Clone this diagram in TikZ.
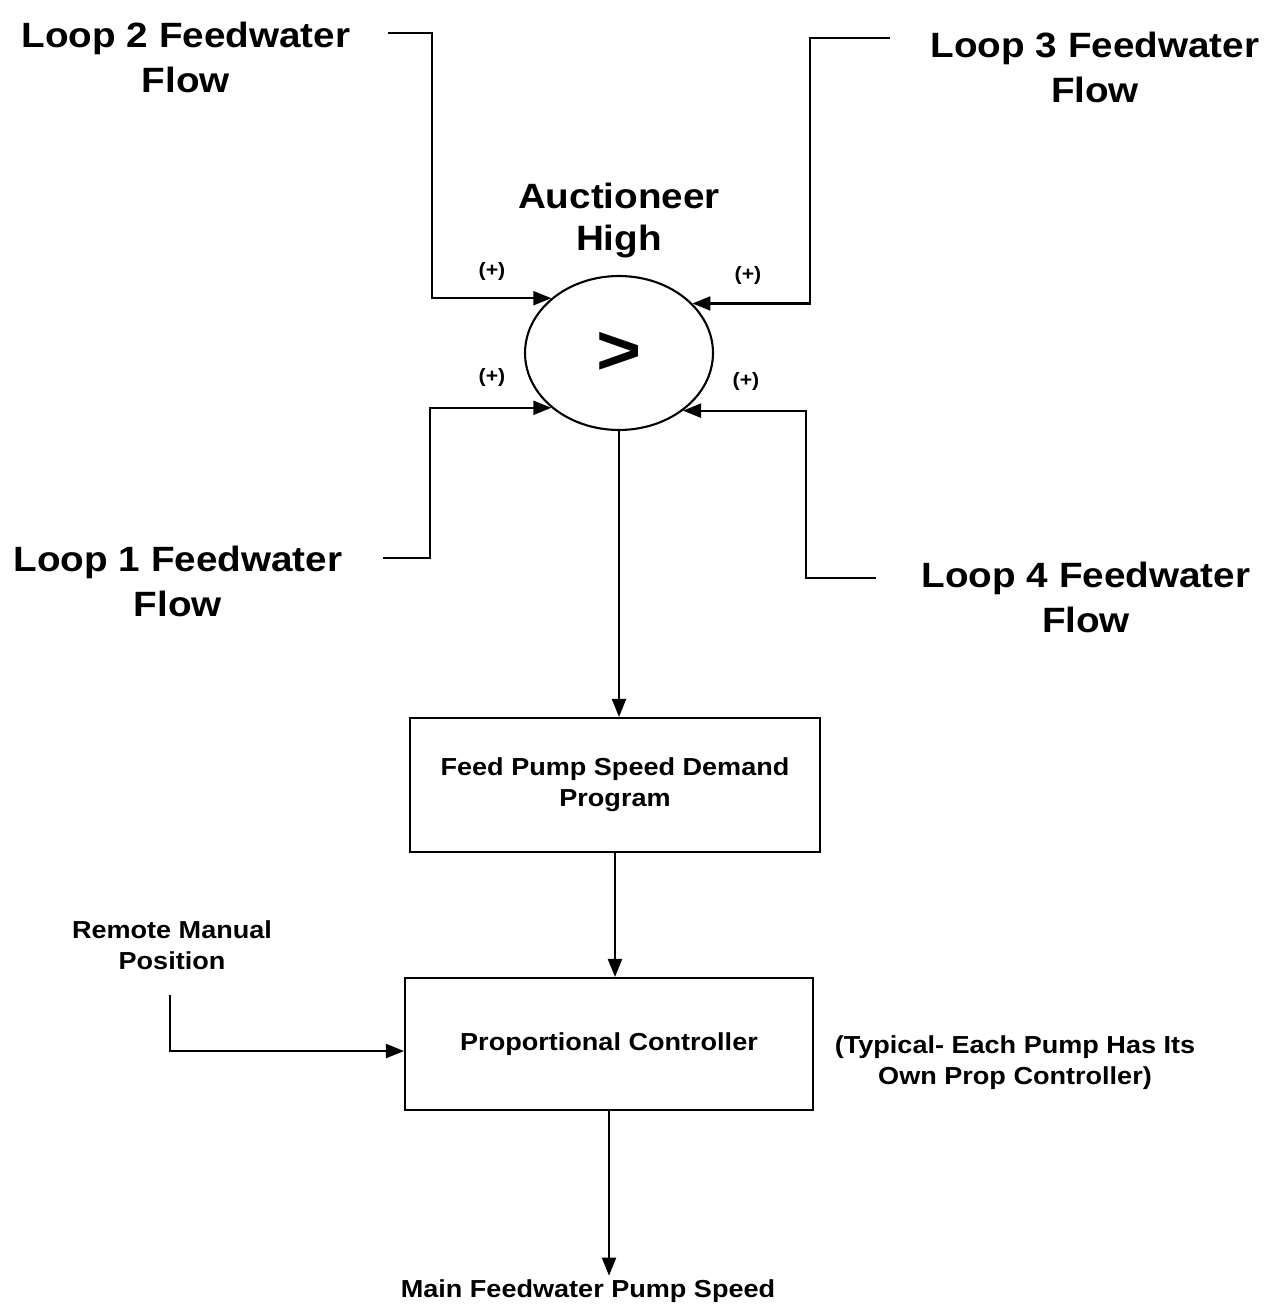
\documentclass[tikz,border=0pt]{standalone}
\usepackage{fontspec}
\setmainfont{Liberation Sans}[FakeStretch=1.1]
\usetikzlibrary{arrows.meta,positioning,shapes.geometric}
\tikzset{
  biglabel/.style={align=center,inner sep=0pt,
    font=\fontsize{20}{25.6}\selectfont\bfseries},
  smalllabel/.style={align=center,inner sep=0pt,
    font=\fontsize{14}{17.6}\selectfont\bfseries},
  signlabel/.style={inner sep=0pt,font=\fontsize{11}{11}\selectfont\bfseries},
  block/.style={draw,rectangle,line width=1.2pt,align=center,
    font=\fontsize{14}{17.6}\selectfont\bfseries},
  auctioneer/.style={draw,ellipse,line width=1.2pt,inner sep=0pt,
    minimum width=3.76cm,minimum height=3.08cm,font=\fontsize{40}{40}\selectfont\bfseries},
  signal/.style={-{Triangle[length=3.6mm,width=2.8mm]},line width=1.2pt}
}
\begin{document}
\begin{tikzpicture}[x=0.02cm,y=-0.02cm]
  \useasboundingbox (0,0) rectangle (1274,1310);
  % auctioneer high
  \node[auctioneer] (ah) at (619,353) {>};
  \node[biglabel,above=0.34cm of ah] (auc) {Auctioneer\\[-2pt]High};
  % loop inputs
  \node[biglabel] (loop2) at (186,57) {Loop 2 Feedwater\\Flow};
  \node[biglabel] (loop3) at (1095,67) {Loop 3 Feedwater\\Flow};
  \node[biglabel] (loop1) at (178,581) {Loop 1 Feedwater\\Flow};
  \node[biglabel] (loop4) at (1086,597) {Loop 4 Feedwater\\Flow};
  \coordinate (l2) at (388,33);
  \coordinate (l3) at (890,38);
  \coordinate (l1) at (383,558);
  \coordinate (l4) at (876,578);
  \draw[signal] (l2) -- ++(44,0) |- (ah.141);
  \draw[signal] (l3) -- ++(-80,0) |- (ah.34);
  \draw[signal] (l1) -- ++(47,0) |- (ah.219);
  \draw[signal] (l4) -- ++(-70,0) |- (ah.318);
  \node[signlabel] (p2) at (492,272) {(+)};
  \node[signlabel] (p3) at (748,276) {(+)};
  \node[signlabel] (p1) at (492,378) {(+)};
  \node[signlabel] (p4) at (746,382) {(+)};
  % program and controller
  \node[block,minimum width=8.2cm,minimum height=2.68cm] (fp) at (615,785)
    {Feed Pump Speed Demand\\Program};
  \node[block,minimum width=8.16cm,minimum height=2.64cm] (pc) at (609,1044)
    {Proportional Controller};
  \node[smalllabel] (rm) at (172,945) {Remote Manual\\Position};
  \node[smalllabel] (tn) at (1015,1063) {(Typical- Each Pump Has Its\\Own Prop Controller)};
  \node[smalllabel] (msp) at (588,1291) {Main Feedwater Pump Speed};
  \coordinate (rmp) at (170,995);
  \draw[signal] (ah.south) -- (ah.south |- fp.north);
  \draw[signal] (fp.south) -- (fp.south |- pc.north);
  \draw[signal] (rmp) |- ([yshift=-4pt]pc.west);
  \draw[signal] (pc.south) -- ([yshift=2pt]pc.south |- msp.north);
\end{tikzpicture}
\end{document}
